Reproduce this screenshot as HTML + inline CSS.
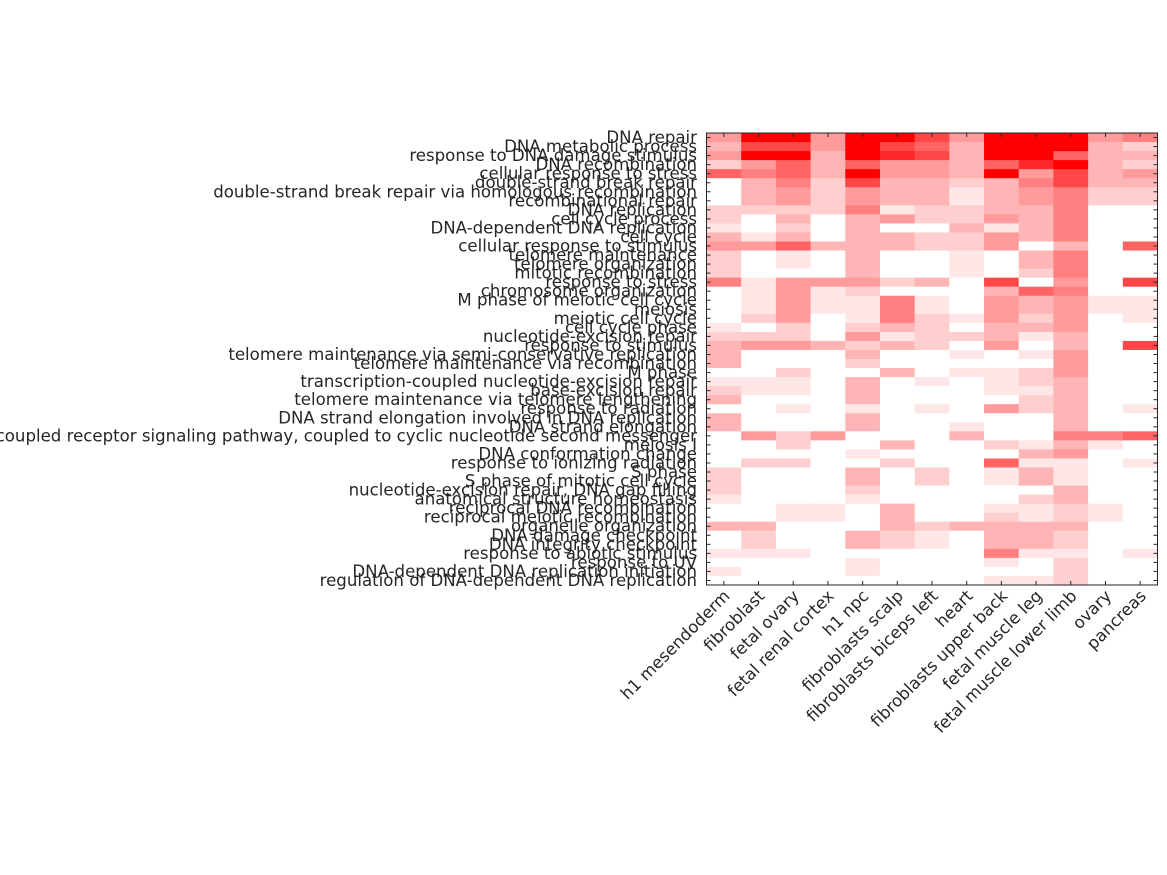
<!DOCTYPE html>
<html><head><meta charset="utf-8"><style>
html,body{margin:0;padding:0;background:#fff;width:1167px;height:875px;overflow:hidden}
svg text{font-family:"DejaVu Sans","Liberation Sans",sans-serif;font-size:16.6px;fill:#262626}
</style></head><body>
<svg id="s" width="1167" height="875" xmlns="http://www.w3.org/2000/svg"></svg>
<script>
const rows=[
["DNA repair","4994997499945"],
["DNA metabolic process","3774976399932"],
["response to DNA damage stimulus","4993987399633"],
["DNA recombination","2463644368932"],
["cellular response to stress","6563944394734"],
["double-strand break repair","0352733235733"],
["double-strand break repair via homologous recombination","0342433134522"],
["recombinational repair","0342433134522"],
["DNA replication","2222512233500"],
["cell cycle process","2030342243500"],
["DNA-dependent DNA replication","1020300313500"],
["cell cycle","3130332243500"],
["cellular response to stimulus","4463332240306"],
["telomere maintenance","2010300103500"],
["telomere organization","2010300103500"],
["mitotic recombination","2000300102500"],
["response to stress","5144423070407"],
["chromosome organization","0141200036500"],
["M phase of meiotic cell cycle","0141151043411"],
["meiosis","0141151043411"],
["meiotic cell cycle","0240152142401"],
["cell cycle phase","1020232033400"],
["nucleotide-excision repair","2220412231300"],
["response to stimulus","3443232040307"],
["telomere maintenance via semi-conservative replication","3000300101400"],
["telomere maintenance via recombination","3000200000400"],
["M phase","0020030112400"],
["transcription-coupled nucleotide-excision repair","1110301012300"],
["base-excision repair","2110300011300"],
["telomere maintenance via telomere lengthening","3000300002300"],
["response to radiation","0010101042301"],
["DNA strand elongation involved in DNA replication","3000300000300"],
["DNA strand elongation","3000300100300"],
["G-protein coupled receptor signaling pathway, coupled to cyclic nucleotide second messenger","0424000300556"],
["meiosis I","0020030021310"],
["DNA conformation change","0000100003400"],
["response to ionizing radiation","0220020061101"],
["S phase","2000302013100"],
["S phase of mitotic cell cycle","2000302013100"],
["nucleotide-excision repair, DNA gap filling","2000200000300"],
["anatomical structure homeostasis","1000100002300"],
["reciprocal DNA recombination","0011030011210"],
["reciprocal meiotic recombination","0011030021210"],
["organelle organization","3300032333300"],
["DNA damage checkpoint","0200321033200"],
["DNA integrity checkpoint","0200321033200"],
["response to abiotic stimulus","1110000051101"],
["response to UV","0000100010200"],
["DNA-dependent DNA replication initiation","1000100000200"],
["regulation of DNA-dependent DNA replication","0000000011200"]];
const cols=["h1 mesendoderm","fibroblast","fetal ovary","fetal renal cortex","h1 npc","fibroblasts scalp","fibroblasts biceps left","heart","fibroblasts upper back","fetal muscle leg","fetal muscle lower limb","ovary","pancreas"];
const L=706.5,R=1157.5,T=133,B=585,cw=(R-L)/13,rh=(B-T)/50;
let h="";
rows.forEach((r,i)=>{for(let j=0;j<13;j++){const v=+r[1][j];const g=Math.round(255*Math.pow(1-v/9,0.85));
h+=`<rect x="${(L+j*cw).toFixed(2)}" y="${(T+i*rh).toFixed(2)}" width="${(cw+0.6).toFixed(2)}" height="${(rh+0.6).toFixed(2)}" fill="rgb(255,${g},${g})"/>`;}
const y=T+(i+0.5)*rh;
h+=`<line x1="${L}" x2="${L+4}" y1="${y}" y2="${y}" stroke="#262626"/><line x1="${R-4}" x2="${R}" y1="${y}" y2="${y}" stroke="#262626"/>`;
h+=`<text x="697" y="${y+5.5}" text-anchor="end">${r[0]}</text>`;});
cols.forEach((c,j)=>{const x=L+(j+0.5)*cw;
h+=`<line x1="${x}" x2="${x}" y1="${T}" y2="${T+4}" stroke="#262626"/><line x1="${x}" x2="${x}" y1="${B-4}" y2="${B}" stroke="#262626"/>`;
h+=`<text transform="translate(${x+7},${B+12}) rotate(-45)" text-anchor="end">${c}</text>`;});
h+=`<rect x="${L}" y="${T}" width="${R-L}" height="${B-T}" fill="none" stroke="#262626" stroke-width="1"/>`;
document.getElementById("s").innerHTML=h;
</script>
</body></html>
